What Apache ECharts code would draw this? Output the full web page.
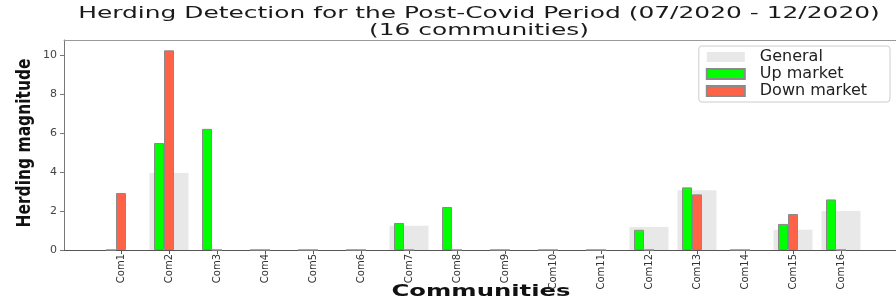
<!DOCTYPE html>
<html>
<head>
<meta charset="utf-8">
<script src="https://cdn.jsdelivr.net/npm/echarts@6/dist/echarts.min.js"></script>
<style>
html, body {margin: 0; padding: 0; background: #fff;}
#chart {width: 896px; height: 303px;}
</style>
</head>
<body>
<div id="chart"></div>
<script>
var communities = ['Com1', 'Com2', 'Com3', 'Com4', 'Com5', 'Com6', 'Com7', 'Com8',
    'Com9', 'Com10', 'Com11', 'Com12', 'Com13', 'Com14', 'Com15', 'Com16'];
var generalVals = [0, 3.96, 0, 0, 0, 0, 1.25, 0, 0, 0, 0, 1.18, 3.07, 0, 1.04, 2.0];
var upVals = [0, 5.5, 6.23, 0, 0, 0, 1.39, 2.21, 0, 0, 0, 1.04, 3.22, 0, 1.34, 2.6];
var downVals = [2.93, 10.27, 0, 0, 0, 0, 0, 0, 0, 0, 0, 0, 2.86, 0, 1.85, 0];
var yTicks = [0, 2, 4, 6, 8, 10];

var tickPos = communities.map(function (c, i) { return i; });
function pairs(vals) {
    return vals.map(function (v, i) { return [i, v]; });
}

var dom = document.getElementById('chart');
var chart = echarts.init(dom);
var edge = '#8a8a8a';

option = {
    animation: false,
    grid: {left: 64, right: 0, top: 40, bottom: 53},
    graphic: [
        {type: 'text', x: 479, y: 14, scaleX: 1.66,
            style: {text: 'Herding Detection for the Post-Covid Period (07/2020 - 12/2020)',
                font: '15px "DejaVu Sans"', fill: '#1a1a1a', align: 'center', verticalAlign: 'middle'}},
        {type: 'text', x: 479, y: 31, scaleX: 1.66,
            style: {text: '(16 communities)',
                font: '15px "DejaVu Sans"', fill: '#1a1a1a', align: 'center', verticalAlign: 'middle'}},
        {type: 'text', x: 25, y: 143, rotation: Math.PI / 2, scaleY: 1.3,
            style: {text: 'Herding magnitude',
                font: 'bold 15.5px "DejaVu Sans"', fill: '#111', align: 'center', verticalAlign: 'middle'}},
        {type: 'text', x: 481, y: 292, scaleX: 1.62,
            style: {text: 'Communities',
                font: 'bold 15px "DejaVu Sans"', fill: '#111', align: 'center', verticalAlign: 'middle'}}
    ],
    legend: {
        data: ['General', 'Up market', 'Down market'],
        orient: 'vertical',
        right: 6,
        top: 46,
        itemWidth: 38,
        itemHeight: 10,
        itemGap: 1,
        padding: [3, 23, 3, 7],
        borderColor: '#ccc',
        borderWidth: 1,
        borderRadius: 3,
        backgroundColor: 'rgba(255,255,255,0.8)',
        icon: 'rect',
        textStyle: {fontFamily: 'DejaVu Sans', fontSize: 16, color: '#222', lineHeight: 16, padding: [0, 0, 0, 10]}
    },
    xAxis: [{
        type: 'value',
        min: -1.1875,
        max: 16.146,
        position: 'bottom',
        axisLine: {show: true, onZero: false, lineStyle: {color: '#555'}},
        axisTick: {show: true, customValues: tickPos, length: 4, lineStyle: {color: '#555'}},
        axisLabel: {
            customValues: tickPos,
            rotate: 90,
            fontFamily: 'DejaVu Sans',
            fontSize: 10,
            color: '#333',
            margin: 4,
            formatter: function (v) { return communities[Math.round(v)]; }
        },
        splitLine: {show: false}
    }, {
        type: 'value',
        min: -1.1875,
        max: 16.146,
        position: 'top',
        axisLine: {show: true, onZero: false, lineStyle: {color: '#999'}},
        axisTick: {show: false},
        axisLabel: {show: false},
        splitLine: {show: false}
    }],
    yAxis: {
        type: 'value',
        min: 0,
        max: 10.8,
        axisLine: {show: true, onZero: false, lineStyle: {color: '#777'}},
        axisTick: {show: true, customValues: yTicks, length: 4, lineStyle: {color: '#777'}},
        axisLabel: {customValues: yTicks, fontFamily: 'DejaVu Sans', fontSize: 11, color: '#444', margin: 7},
        splitLine: {show: false}
    },
    series: [{
        name: 'General',
        type: 'bar',
        xAxisIndex: 1,
        barWidth: 39,
        data: pairs(generalVals),
        itemStyle: {color: '#e8e8e8'}
    }, {
        name: 'Up market',
        type: 'bar',
        xAxisIndex: 0,
        barWidth: 10,
        barGap: '0%',
        data: pairs(upVals),
        itemStyle: {color: '#00ff00', borderColor: edge, borderWidth: 1}
    }, {
        name: 'Down market',
        type: 'bar',
        xAxisIndex: 0,
        barWidth: 10,
        barGap: '0%',
        data: pairs(downVals),
        itemStyle: {color: '#ff6347', borderColor: edge, borderWidth: 1}
    }, {
        // empty slot so that the down bars sit on the tick and the up bars just left of it
        name: 'spacer',
        type: 'bar',
        xAxisIndex: 0,
        barWidth: 10,
        barGap: '0%',
        data: []
    }]
};

chart.setOption(option, true);
</script>
</body>
</html>
